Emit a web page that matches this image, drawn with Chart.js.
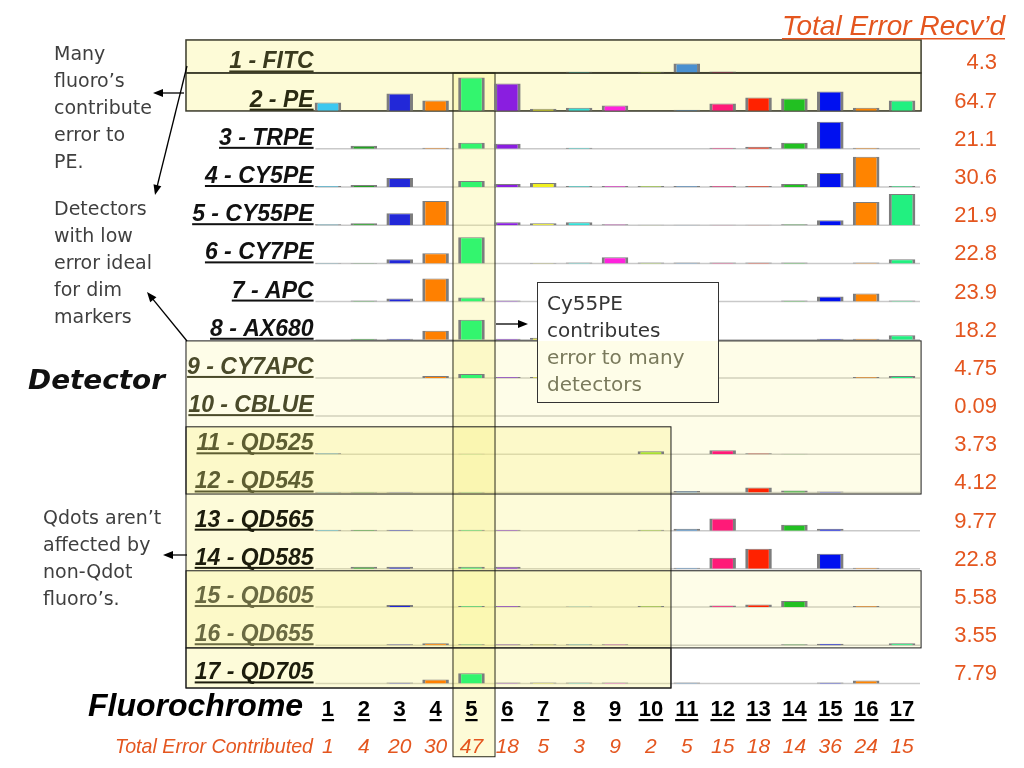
<!DOCTYPE html>
<html>
<head>
<meta charset="utf-8">
<script src="https://cdn.jsdelivr.net/npm/chart.js@4.4.1/dist/chart.umd.min.js"></script>
<style>
  html, body { margin: 0; padding: 0; background: #fff; }
  canvas { display: block; }
</style>
</head>
<body>
<canvas id="chart" width="1024" height="768"></canvas>
<script>
'use strict';

// Detectors (rows) and fluorochromes (columns)
const detectors = ['1 - FITC', '2 - PE', '3 - TRPE', '4 - CY5PE', '5 - CY55PE', '6 - CY7PE',
    '7 - APC', '8 - AX680', '9 - CY7APC', '10 - CBLUE', '11 - QD525', '12 - QD545',
    '13 - QD565', '14 - QD585', '15 - QD605', '16 - QD655', '17 - QD705'];
const fluorochromes = ['1', '2', '3', '4', '5', '6', '7', '8', '9', '10', '11', '12', '13', '14', '15', '16', '17'];
const totalReceived = ['4.3', '64.7', '21.1', '30.6', '21.9', '22.8', '23.9', '18.2', '4.75',
    '0.09', '3.73', '4.12', '9.77', '22.8', '5.58', '3.55', '7.79'];
const totalContributed = [1, 4, 20, 30, 47, 18, 5, 3, 9, 2, 5, 15, 18, 14, 36, 24, 15];
const fluoroColors = ['#3cc8f0', '#22a022', '#2228d8', '#ff8000', '#33f56e', '#8a1ee0', '#f0f020',
    '#33e0d8', '#ff22dd', '#a8e030', '#4a90d0', '#ff1a78', '#ff2200', '#22c022', '#0010f0',
    '#ff8400', '#22f080'];

// error each fluorochrome spills into each detector (bar height; 38 = one row)
const errFITC   = [0, 0, 0, 0, 0, 0, 0, 0.8, 0, 0.8, 9, 1, 0, 0, 0, 0, 0];
const errPE     = [8, 0, 17, 10, 33, 27, 2, 3, 5, 0, 1, 7, 13, 12, 19, 3, 10];
const errTRPE   = [0, 3, 0, 1, 6, 5, 0, 1, 0, 0, 0, 1, 2, 6, 27, 1, 0];
const errCY5PE  = [1, 2, 9, 0, 6, 3, 4, 1, 1, 1, 1, 1, 1, 3, 14, 30, 1];
const errCY55PE = [1, 2, 12, 24, 0, 3, 2, 3, 1, 0.5, 0.5, 0.5, 0.5, 1, 5, 23, 31];
const errCY7PE  = [0.5, 0.5, 4, 10, 26, 0, 0.5, 1, 6, 1, 1, 1, 1, 1, 0, 1, 4];
const errAPC    = [0, 1, 3, 23, 4, 1, 0, 0, 0, 0, 0, 0, 0, 1, 5, 8, 1];
const errAX680  = [0, 1, 1, 9, 20, 1, 2, 0, 0, 0, 0, 0, 0, 0, 1, 1, 4.5];
const errCY7APC = [0, 0, 0, 2, 4, 1, 1, 0, 0, 0, 0, 0, 0, 0, 0, 1, 2];
const errCBLUE  = [0, 0, 0, 0, 0, 0, 0, 0, 0, 0, 0, 0, 0, 0, 0, 0, 0];
const errQD525  = [1, 0, 0, 0, 0.5, 0, 0, 0, 0, 3, 0, 4, 1, 0.5, 0, 0, 0];
const errQD545  = [0.5, 0.5, 0.5, 0, 0.5, 0, 0, 0, 0, 0, 1.5, 0, 5, 2, 1, 0, 0];
const errQD565  = [1, 1, 1, 0, 1, 1, 0, 0, 0, 1, 2, 12, 0, 6, 2, 0, 0];
const errQD585  = [0, 2, 2, 0, 2, 2, 0, 0, 0, 0, 1, 11, 20, 0, 15, 1, 0];
const errQD605  = [0, 0, 2, 0, 1, 1, 0, 0.5, 0, 1, 0, 1.5, 2.5, 6, 0, 1, 0];
const errQD655  = [0, 0, 1, 2, 1, 1, 1, 1, 1, 0, 0, 0, 0, 1, 1.5, 0, 2];
const errQD705  = [0, 0, 1, 4, 10, 1, 1, 1, 1, 0, 1, 0, 0, 0, 1, 3, 0];

const errorRows = [errFITC, errPE, errTRPE, errCY5PE, errCY55PE, errCY7PE, errAPC, errAX680,
    errCY7APC, errCBLUE, errQD525, errQD545, errQD565, errQD585, errQD605, errQD655, errQD705];

const ROW_SPAN = 38;
const rowBase = r => (detectors.length - 1 - r) * ROW_SPAN;

const ORANGE = '#e4561f';
const FONT = '"Liberation Sans", Arial, sans-serif';
const NARROW = '"Liberation Sans Narrow", "Arial Narrow", "Liberation Sans", sans-serif';
const NOTE = '"DejaVu Sans", Verdana, sans-serif';
const TINT = '250,242,130';

// highlight boxes in column / row units (fractional)
const boxes = [
    { c0: -2.956, c1: 17.53, r0: 0.149, r1: 1.013, fill: 0.32, line: '#3a3a2a', lw: 1.5 },
    { c0: -2.956, c1: 17.53, r0: 1.013, r1: 2.008, fill: 0.32, line: '#3a3a2a', lw: 1.5 },
    { c0: 4.485, c1: 5.656, r0: 1.013, r1: 18.92, fill: 0.32, line: '#2a2a1a', lw: 1 },
    { c0: -2.956, c1: 17.53, r0: 8.03, r1: 12.04, fill: 0.18, line: '#1a1a1a', lw: 1 },
    { c0: -2.956, c1: 10.56, r0: 10.28, r1: 17.12, fill: 0.30, line: '#1a1a1a', lw: 1 },
    { c0: -2.956, c1: 17.53, r0: 14.05, r1: 16.07, fill: 0.18, line: '#1a1a1a', lw: 1 },
    { c0: -2.956, c1: 10.56, r0: 16.07, r1: 17.12, fill: 0, line: '#1a1a1a', lw: 1 },
];
const labelColors = ['#3a3a1e', '#2a2a12', '#111', '#111', '#111', '#111', '#111', '#111',
    '#4a4a2a', '#4a4a2a', '#5e5e32', '#5e5e32', '#1c1c0c', '#1c1c0c', '#6a6a42', '#6a6a42', '#1c1c0c'];

function text(ctx, str, x, y, o) {
    ctx.save();
    ctx.font = o.font;
    ctx.fillStyle = o.color;
    ctx.textBaseline = 'alphabetic';
    ctx.textAlign = 'left';
    let w = ctx.measureText(str).width;
    let sx = 1;
    if (o.maxWidth && w > o.maxWidth) sx = o.maxWidth / w;
    if (o.width) sx = o.width / w;
    const ww = w * sx;
    const x0 = o.align === 'right' ? x - ww : o.align === 'center' ? x - ww / 2 : x;
    ctx.translate(x0, y);
    ctx.scale(sx, 1);
    ctx.fillText(str, 0, 0);
    if (o.underline) ctx.fillRect(0, o.underline[0], w, o.underline[1]);
    ctx.restore();
}

function arrow(ctx, x1, y1, x2, y2) {
    const a = Math.atan2(y2 - y1, x2 - x1);
    ctx.save();
    ctx.strokeStyle = '#000';
    ctx.fillStyle = '#000';
    ctx.lineWidth = 1.3;
    ctx.beginPath();
    ctx.moveTo(x1, y1);
    ctx.lineTo(x2 - 8 * Math.cos(a), y2 - 8 * Math.sin(a));
    ctx.stroke();
    ctx.translate(x2, y2);
    ctx.rotate(a);
    ctx.beginPath();
    ctx.moveTo(0, 0);
    ctx.lineTo(-10, -4);
    ctx.lineTo(-10, 4);
    ctx.closePath();
    ctx.fill();
    ctx.restore();
}

const decor = {
    id: 'decor',
    beforeDatasetsDraw(chart) {
        const ctx = chart.ctx;
        const xs = chart.scales.x, ys = chart.scales.y;
        const colX = c => xs.getPixelForValue(c);
        const rowY = r => ys.getPixelForValue((detectors.length - r) * ROW_SPAN);
        // row baselines
        ctx.save();
        ctx.strokeStyle = '#c9c9c9';
        ctx.lineWidth = 1.5;
        detectors.forEach((d, i) => {
            const y = ys.getPixelForValue(rowBase(i));
            ctx.beginPath();
            ctx.moveTo(colX(0.65), y);
            ctx.lineTo(colX(17.5), y);
            ctx.stroke();
        });
        // highlight boxes
        boxes.forEach(b => {
            if (b.fill > 0) {
                ctx.fillStyle = 'rgba(' + TINT + ',' + b.fill + ')';
                ctx.fillRect(colX(b.c0), rowY(b.r0), colX(b.c1) - colX(b.c0), rowY(b.r1) - rowY(b.r0));
            }
        });
        boxes.forEach(b => {
            ctx.strokeStyle = b.line;
            ctx.lineWidth = b.lw;
            ctx.strokeRect(colX(b.c0), rowY(b.r0), colX(b.c1) - colX(b.c0), rowY(b.r1) - rowY(b.r0));
        });
        ctx.restore();
    },
    afterDatasetsDraw(chart) {
        const ctx = chart.ctx;
        const xs = chart.scales.x, ys = chart.scales.y;
        const colX = c => xs.getPixelForValue(c);
        const rowY = r => ys.getPixelForValue((detectors.length - r) * ROW_SPAN);

        // row labels and totals received
        detectors.forEach((d, i) => {
            const y = ys.getPixelForValue(rowBase(i));
            text(ctx, d, colX(0.6), y - 4, { font: 'italic bold 23px ' + FONT, color: labelColors[i], align: 'right', underline: [2, 2] });
            text(ctx, totalReceived[i], 997, y - 3, { font: '22px ' + FONT, color: ORANGE, align: 'right' });
        });
        text(ctx, 'Total Error Recv\u2019d', 1005, 35, { font: 'italic 28px ' + FONT, color: ORANGE, align: 'right', underline: [3, 1.5] });

        // column axis
        text(ctx, 'Fluorochrome', 88, 716, { font: 'italic bold 32px ' + FONT, color: '#000', maxWidth: 220 });
        text(ctx, 'Total Error Contributed', 313, 753, { font: 'italic 21px ' + NARROW, color: ORANGE, align: 'right', maxWidth: 198 });
        fluorochromes.forEach((f, i) => {
            const x = colX(i + 1);
            text(ctx, f, x, 716, { font: 'bold 22px ' + FONT, color: '#000', align: 'center', underline: [3, 2.2] });
            text(ctx, String(totalContributed[i]), x, 753, { font: 'italic 21px ' + NARROW, color: ORANGE, align: 'center', maxWidth: 26 });
        });

        // callout
        const bx = 537, by = 282, bw = 181, bh = 120;
        ctx.save();
        ctx.fillStyle = '#fff';
        ctx.fillRect(bx, by, bw, bh);
        const bTop = rowY(boxes[3].r0);
        ctx.fillStyle = 'rgba(' + TINT + ',0.18)';
        ctx.fillRect(bx, bTop, bw, by + bh - bTop);
        ctx.strokeStyle = '#333';
        ctx.lineWidth = 1;
        ctx.strokeRect(bx + 0.5, by + 0.5, bw, bh);
        ctx.restore();
        const cLines = ['Cy55PE', 'contributes', 'error to many', 'detectors'];
        cLines.forEach((l, i) => {
            text(ctx, l, 547, 310 + i * 27, { font: '20px ' + NOTE, color: i < 2 ? '#353535' : '#7a7a5c' });
        });

        // side notes
        const note = { font: '19px ' + NOTE, color: '#3f3f3f' };
        ['Many', 'fluoro\u2019s', 'contribute', 'error to', 'PE.'].forEach((l, i) => text(ctx, l, 54, 60 + i * 27, note));
        ['Detectors', 'with low', 'error ideal', 'for dim', 'markers'].forEach((l, i) => text(ctx, l, 54, 215 + i * 27, note));
        ['Qdots aren\u2019t', 'affected by', 'non-Qdot', 'fluoro\u2019s.'].forEach((l, i) => text(ctx, l, 43, 524 + i * 27, note));
        text(ctx, 'Detector', 28, 389, { font: 'italic bold 26px ' + NOTE, color: '#111', width: 137 });

        arrow(ctx, 187, 66, 155, 195);
        arrow(ctx, 184, 93, 153, 93);
        arrow(ctx, 187, 341, 147, 292);
        arrow(ctx, 187, 555, 163, 555);
        arrow(ctx, 496, 324, 528, 324);
    }
};

const datasets = errorRows.map((row, r) => ({
    label: detectors[r],
    data: row.map((v, c) => v > 0 ? { x: c + 1, y: [rowBase(r), rowBase(r) + v] } : null).filter(Boolean),
    backgroundColor: ctx => (ctx.raw ? fluoroColors[ctx.raw.x - 1] : '#999'),
    borderColor: '#7d7d7d',
    borderWidth: { top: 1, left: 3, right: 3, bottom: 0 },
    borderSkipped: false,
    grouped: false,
    barPercentage: 0.74,
    categoryPercentage: 1,
}));

new Chart(document.getElementById('chart'), {
    type: 'bar',
    data: { datasets: datasets },
    options: {
        responsive: false,
        animation: false,
        layout: { padding: { left: 310, right: 104, top: 40, bottom: 80 } },
        scales: {
            x: { type: 'linear', min: 0.5, max: 17.5, offset: false, display: false },
            y: { type: 'linear', min: -0.12 * ROW_SPAN, max: 16.85 * ROW_SPAN, display: false },
        },
        plugins: { legend: { display: false }, tooltip: { enabled: false } },
    },
    plugins: [decor],
});
</script>
</body>
</html>
